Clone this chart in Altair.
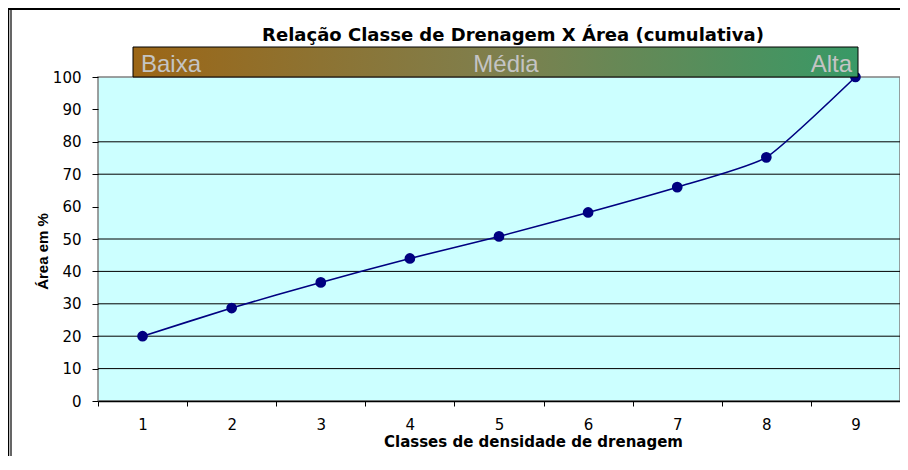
import altair as alt
import pandas as pd

# ---- data ----
classes = [1, 2, 3, 4, 5, 6, 7, 8, 9]
area_pct = [20, 28.7, 36.6, 44, 50.8, 58.2, 66, 75.2, 100]
y_ticks = [0, 10, 20, 30, 40, 50, 60, 70, 80, 90, 100]
grid_values = [10, 20, 30, 40, 50, 70, 80]
band_labels = ["Baixa", "Média", "Alta"]
title_text = "Relação Classe de Drenagem X Área (cumulativa)"
x_title = "Classes de densidade de drenagem"
y_title = "Área em %"

df = pd.DataFrame({"classe": classes, "area": area_pct})
grid_df = pd.DataFrame({"g": grid_values})
one = pd.DataFrame({"a": [0]})

NAVY = "#000080"
NUM_FONT = "DejaVu Sans"
y_scale = alt.Scale(domain=[0, 100], nice=False)

x_axis = alt.Axis(
    title=x_title,
    labelAngle=0,
    labelFont=NUM_FONT,
    labelFontSize=15,
    labelColor="black",
    labelPadding=11,
    tickBand="extent",
    tickSize=5,
    tickColor="black",
    domainColor="black",
    domainWidth=1.5,
    titleFont="DejaVu Sans",
    titleFontWeight="bold",
    titleFontSize=15,
    titleColor="black",
    titleX=435,
    titleY=40,
    titleAlign="center",
    titleBaseline="middle",
    grid=False,
)
y_axis = alt.Axis(
    title=y_title,
    values=y_ticks,
    labelOverlap=False,
    labelFont=NUM_FONT,
    labelFontSize=15,
    labelColor="black",
    labelPadding=11,
    tickSize=6,
    tickColor="black",
    domain=False,
    grid=False,
    titleFont="Liberation Sans",
    titleFontWeight="bold",
    titleFontSize=15,
    titleColor="black",
    titleX=-56,
    titleY=174,
    titleAlign="center",
    titleBaseline="middle",
    titleAngle=-90,
)

x_enc = alt.X("classe:O", scale=alt.Scale(type="band", paddingInner=0, paddingOuter=0), axis=x_axis)
y_enc = alt.Y("area:Q", scale=y_scale, axis=y_axis)

grid = alt.Chart(grid_df).mark_rule(color="black", strokeWidth=1).encode(
    y=alt.Y("g:Q", scale=y_scale, axis=y_axis)
)

gradient = alt.Gradient(
    gradient="linear",
    stops=[
        alt.GradientStop(color="#9C6616", offset=0),
        alt.GradientStop(color="#7F7F4D", offset=0.5),
        alt.GradientStop(color="#389966", offset=1),
    ],
    x1=0, x2=1, y1=0, y2=0,
)
band = alt.Chart(one).mark_rect(fill=gradient, stroke="black", strokeWidth=1).encode(
    x=alt.value(35), x2=alt.value(760), y=alt.value(-30), y2=alt.value(0)
)

label_font = "Liberation Sans"
label_layers = []
for lab, xpos, al in zip(band_labels, [43, 408, 754], ["left", "center", "right"]):
    label_layers.append(
        alt.Chart(pd.DataFrame({"t": [lab]})).mark_text(
            align=al, baseline="alphabetic", font=label_font, fontSize=24, color="#C4C4C4"
        ).encode(x=alt.value(xpos), y=alt.value(-5), text="t:N")
    )

line = alt.Chart(df).mark_line(interpolate="cardinal", tension=0.5, color=NAVY, strokeWidth=1.6).encode(
    x=x_enc, y=y_enc
)
pts = alt.Chart(df).mark_circle(size=115, color=NAVY, opacity=1).encode(x=x_enc, y=y_enc)

title = alt.Chart(pd.DataFrame({"t": [title_text]})).mark_text(
    align="center", baseline="alphabetic", font="DejaVu Sans", fontWeight="bold",
    fontSize=18, color="black"
).encode(x=alt.value(415), y=alt.value(-36), text="t:N")

border_top = alt.Chart(one).mark_rule(color="black", strokeWidth=2).encode(
    x=alt.value(-90), x2=alt.value(810), y=alt.value(-68)
)
border_l1 = alt.Chart(one).mark_rule(color="black", strokeWidth=1.5).encode(
    x=alt.value(-89.5), y=alt.value(-69), y2=alt.value(390)
)
border_l2 = alt.Chart(one).mark_rule(color="black", strokeWidth=1.2).encode(
    x=alt.value(-87), y=alt.value(-68), y2=alt.value(390)
)

chart = alt.layer(
    grid, line, pts, band, *label_layers, title, border_top, border_l1, border_l2
).properties(
    width=802, height=324,
    background="white",
    autosize=alt.AutoSizeParams(type="none"),
    padding={"left": 90, "top": 69, "right": 0, "bottom": 55},
).configure_view(
    fill="#CCFFFF", stroke="#808080", strokeWidth=1.5
)

chart.save("out.html", embed_options={"renderer": "svg", "actions": False})
